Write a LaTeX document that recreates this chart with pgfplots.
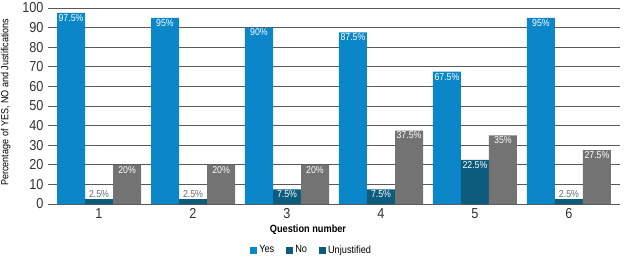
\documentclass[border=0pt]{standalone}
\usepackage{pgfplots}
\pgfplotsset{compat=1.18}
\usepackage{fontspec}
\setmainfont{Liberation Sans}[FakeStretch=0.88]
\definecolor{yesc}{HTML}{0A86C9}
\definecolor{noc}{HTML}{0D5B7D}
\definecolor{unc}{HTML}{737373}
\definecolor{gridc}{HTML}{5A5A5A}
\definecolor{lblc}{HTML}{6A6A6A}
\begin{document}
\begin{tikzpicture}
\useasboundingbox (-48bp,-54bp) rectangle (576bp,204bp);
\begin{axis}[
  at={(0,0)}, anchor=south west,
  scale only axis,
  width=572bp, height=196bp,
  ybar=0pt, bar width=0.298,
  xmin=0.457, xmax=6.543,
  ymin=0, ymax=100,
  ytick={0,10,...,100},
  xtick={1,...,6},
  axis line style={draw=none},
  major tick length=0pt,
  ymajorgrids, grid style={gridc, line width=0.7pt},
  tick label style={font=\fontsize{14.5}{16}\selectfont, text=black!80},
  /pgf/number format/assume math mode=true,
  yticklabel style={xshift=-1bp},
  xticklabel style={yshift=-1bp},
  ylabel={Percentage of YES, NO and Justifications},
  ylabel style={font=\fontsize{10.3}{12}\selectfont, at={(axis description cs:-0.074,0.52)}, anchor=center},
  xlabel={Question number},
  xlabel style={font=\fontsize{10.5}{12}\selectfont\bfseries, at={(axis description cs:0.4545,-0.133)}, anchor=center},
  every node near coord/.append style={font=\fontsize{10}{11}\selectfont, inner sep=1.2pt},
  legend style={at={(axis description cs:0.461,-0.235)}, anchor=center, draw=none, legend columns=3,
     font=\fontsize{10.5}{12}\selectfont, /tikz/every even column/.append style={column sep=10bp}},
  legend image code/.code={\fill[#1,draw=none] (0bp,-3.5bp) rectangle (7bp,3.5bp);},
]
\addlegendimage{fill=yesc,draw=none}
\addlegendimage{fill=noc,draw=none}
\addlegendimage{fill=noc,draw=none}
\addplot[fill=yesc, draw=none, bar shift=-0.298, forget plot,
  nodes near coords={\pgfmathprintnumber{\pgfplotspointmeta}\%},
  every node near coord/.append style={anchor=north, text=white}]
  coordinates {(1,97.5) (2,95) (3,90) (4,87.5) (5,67.5) (6,95)};
\addplot[fill=noc, draw=none, bar shift=0, forget plot]
  coordinates {(1,2.5) (2,2.5) (3,7.5) (4,7.5) (5,22.5) (6,2.5)};
\addplot[fill=unc, draw=none, bar shift=0.298, forget plot,
  nodes near coords={\pgfmathprintnumber{\pgfplotspointmeta}\%},
  every node near coord/.append style={anchor=north, text=white}]
  coordinates {(1,20) (2,20) (3,20) (4,37.5) (5,35) (6,27.5)};
\addplot[forget plot, fill=none, draw=none, bar shift=0,
  nodes near coords={\pgfmathprintnumber{\pgfplotspointmeta}\%},
  every node near coord/.append style={anchor=north, text=white}]
  coordinates {(3,7.5) (4,7.5) (5,22.5)};
\addplot[forget plot, fill=none, draw=none, bar shift=0,
  nodes near coords={\pgfmathprintnumber{\pgfplotspointmeta}\%},
  every node near coord/.append style={anchor=south, text=lblc, fill=white}]
  coordinates {(1,2.5) (2,2.5) (6,2.5)};
\legend{Yes, No, Unjustified}
\end{axis}
\end{tikzpicture}
\end{document}
